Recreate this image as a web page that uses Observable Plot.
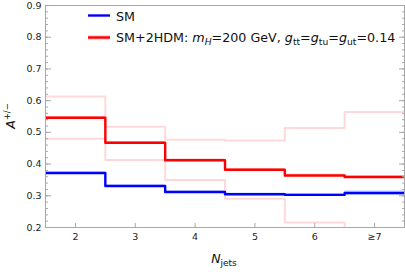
<!DOCTYPE html>
<html>
<head>
<meta charset="utf-8">
<script src="https://cdn.jsdelivr.net/npm/d3@7"></script>
<script src="https://cdn.jsdelivr.net/npm/@observablehq/plot@0.6"></script>
<style>
  html, body { margin: 0; padding: 0; background: #fff; }
  #chart { width: 405px; height: 272px; }
</style>
</head>
<body>
<div id="chart"></div>
<script>
// ---- data ----
const nJets = [2, 3, 4, 5, 6, 7];
const xTickLabels = ["2", "3", "4", "5", "6", "≥7"];
const yTicks = [0.2, 0.3, 0.4, 0.5, 0.6, 0.7, 0.8, 0.9];
const smA = [0.372, 0.331, 0.312, 0.305, 0.303, 0.309];
const smErr = [0.004, 0.004, 0.004, 0.004, 0.004, 0.007];
const thdmA = [0.546, 0.467, 0.412, 0.382, 0.364, 0.359];
const thdmErr = [0.004, 0.004, 0.004, 0.004, 0.004, 0.004];
const thdmUp = [0.613, 0.518, 0.477, 0.474, 0.514, 0.564];
const thdmDown = [0.480, 0.413, 0.350, 0.291, 0.216, 0.190];

// step helpers (each bin spans n-0.5 .. n+0.5)
const steps = (vals) => vals.flatMap((v, i) => [
  {x: nJets[i] - 0.5, y: v},
  {x: nJets[i] + 0.5, y: v}
]);
const stepBand = (vals, errs) => vals.flatMap((v, i) => [
  {x: nJets[i] - 0.5, y1: v - errs[i], y2: v + errs[i]},
  {x: nJets[i] + 0.5, y1: v - errs[i], y2: v + errs[i]}
]);
const minorTicks = d3.range(10, 46, 1).map(k => k / 50).filter(v => v <= 0.9);

const gray = "#a8a8a8";
const font = "DejaVu Sans";

const plot = Plot.plot({
  width: 405,
  height: 272,
  marginLeft: 45,
  marginRight: 1,
  marginTop: 5,
  marginBottom: 45,
  style: {fontFamily: font, background: "#fff"},
  x: {domain: [1.5, 7.5]},
  y: {domain: [0.2, 0.9]},
  marks: [
    // uncertainty bands
    Plot.areaY(stepBand(smA, smErr), {x: "x", y1: "y1", y2: "y2", fill: "#cfdcff", clip: true}),
    Plot.areaY(stepBand(thdmA, thdmErr), {x: "x", y1: "y1", y2: "y2", fill: "#ffc4c4", clip: true}),
    Plot.line(steps(thdmUp), {x: "x", y: "y", stroke: "#ffd9d9", strokeWidth: 2, clip: true}),
    Plot.line(steps(thdmDown), {x: "x", y: "y", stroke: "#ffd9d9", strokeWidth: 2, clip: true}),
    // central values
    Plot.line(steps(smA), {x: "x", y: "y", stroke: "#0000ff", strokeWidth: 2.4, clip: true}),
    Plot.line(steps(thdmA), {x: "x", y: "y", stroke: "#ff0000", strokeWidth: 2.4, clip: true}),
    // frame and axes
    Plot.frame({stroke: gray}),
    Plot.axisY(yTicks, {anchor: "left", tickSize: 0, tickPadding: 4, tickFormat: ".1f", fontSize: 9.5, fill: "#222", label: null}),
    Plot.axisY(yTicks, {anchor: "left", tickSize: 6, dx: 6, fill: "none", stroke: gray, label: null}),
    Plot.axisY(minorTicks, {anchor: "left", tickSize: 3, dx: 3, fill: "none", stroke: gray, label: null}),
    Plot.axisY(yTicks, {anchor: "right", tickSize: 6, dx: -6, fill: "none", stroke: gray, label: null}),
    Plot.axisY(minorTicks, {anchor: "right", tickSize: 3, dx: -3, fill: "none", stroke: gray, label: null}),
    Plot.axisX(nJets, {anchor: "bottom", tickSize: 0, tickPadding: 6, tickFormat: (d, i) => xTickLabels[i], fontSize: 9.5, fill: "#222", label: null}),
    Plot.axisX(nJets, {anchor: "bottom", tickSize: 4, dy: -4, fill: "none", stroke: gray, label: null})
  ]
});

document.getElementById("chart").appendChild(plot);

// ---- axis titles and legend (rich text) ----
const svg = d3.select(plot);

// x title: N_jets
const xt = svg.append("text")
  .attr("x", 224).attr("y", 263)
  .attr("text-anchor", "middle")
  .attr("font-family", font).attr("font-size", 12.5).attr("fill", "#111");
xt.append("tspan").attr("font-style", "italic").text("N");
xt.append("tspan").attr("font-size", 9).attr("dy", 2.5).text("jets");

// y title: A^{+/-}
const yt = svg.append("text")
  .attr("transform", "translate(15,116) rotate(-90)")
  .attr("text-anchor", "middle")
  .attr("font-family", font).attr("font-size", 12.5).attr("fill", "#111");
yt.append("tspan").attr("font-style", "italic").text("A");
yt.append("tspan").attr("font-size", 8.5).attr("dy", -5).text("+/−");

// legend
const lg = svg.append("g").attr("font-family", font).attr("fill", "#111").attr("text-anchor", "start");
lg.append("line").attr("x1", 88).attr("x2", 110).attr("y1", 15.5).attr("y2", 15.5)
  .attr("stroke", "#0000ff").attr("stroke-width", 2.4);
lg.append("text").attr("x", 116).attr("y", 20.5).attr("font-size", 12.7).attr("text-anchor", "start").text("SM");
lg.append("line").attr("x1", 88).attr("x2", 110).attr("y1", 37.5).attr("y2", 37.5)
  .attr("stroke", "#ffc4c4").attr("stroke-width", 4.5);
lg.append("line").attr("x1", 88).attr("x2", 110).attr("y1", 37.5).attr("y2", 37.5)
  .attr("stroke", "#ff0000").attr("stroke-width", 2.4);
const t2 = lg.append("text").attr("x", 116).attr("y", 42).attr("font-size", 12.7).attr("text-anchor", "start");
t2.append("tspan").text("SM+2HDM: ");
t2.append("tspan").attr("font-style", "italic").text("m");
t2.append("tspan").attr("font-style", "italic").attr("font-size", 9.2).attr("dy", 2.5).text("H");
t2.append("tspan").attr("dy", -2.5).text("=200 GeV, ");
t2.append("tspan").attr("font-style", "italic").text("g");
t2.append("tspan").attr("font-size", 9.2).attr("dy", 2.5).text("tt");
t2.append("tspan").attr("dy", -2.5).text("=");
t2.append("tspan").attr("font-style", "italic").text("g");
t2.append("tspan").attr("font-size", 9.2).attr("dy", 2.5).text("tu");
t2.append("tspan").attr("dy", -2.5).text("=");
t2.append("tspan").attr("font-style", "italic").text("g");
t2.append("tspan").attr("font-size", 9.2).attr("dy", 2.5).text("ut");
t2.append("tspan").attr("dy", -2.5).text("=0.14");
</script>
</body>
</html>
